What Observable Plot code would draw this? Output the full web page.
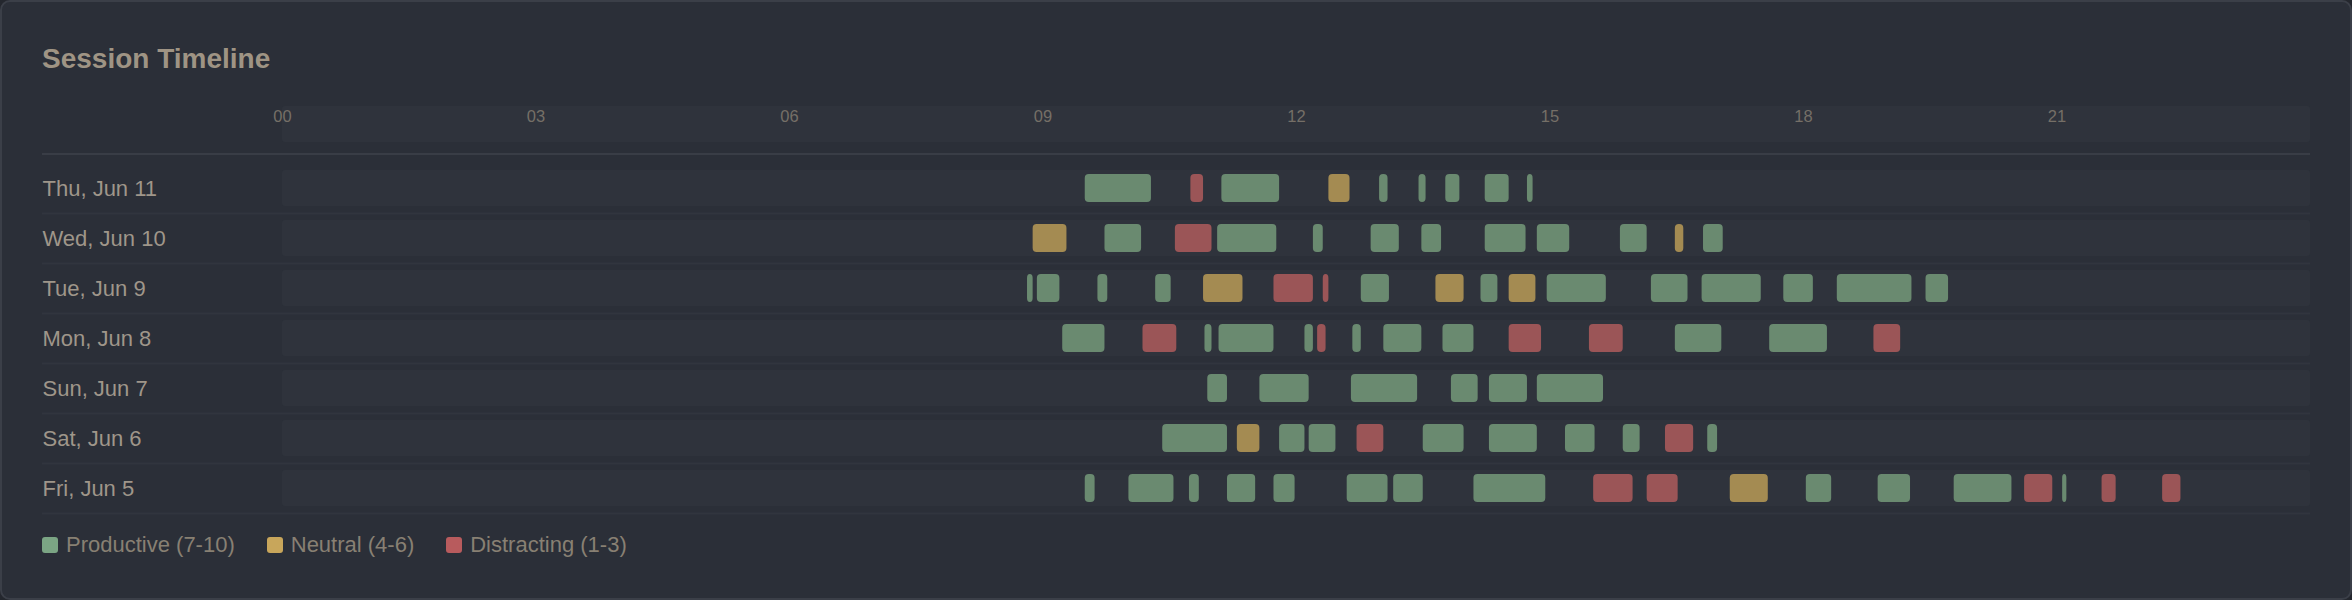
<!DOCTYPE html>
<html>
<head>
<meta charset="utf-8">
<script src="https://cdn.jsdelivr.net/npm/d3@7"></script>
<script src="https://cdn.jsdelivr.net/npm/@observablehq/plot@0.6"></script>
<style>
  html, body { margin: 0; padding: 0; background: #24272e; }
  body { position: relative; width: 2352px; height: 600px; overflow: hidden; font-family: "Liberation Sans", Arial, sans-serif; }
  #card { position: absolute; left: 0; top: 0; width: 2352px; height: 600px; box-sizing: border-box;
          border: 2px solid #3b3f48; border-radius: 10px; background: #2b2f38; }
  #title { position: absolute; left: 42px; top: 45px; font-size: 28px; line-height: 28px; font-weight: bold; color: #9f9484; margin: 0; }
  #header { position: absolute; left: 42px; top: 106px; }
  #hsep { position: absolute; left: 42px; top: 153px; width: 2268px; height: 2px; background: #393d46; }
  #body { position: absolute; left: 42px; top: 150px; }
  #legend { position: absolute; left: 42px; top: 533px; display: flex; align-items: center; font-size: 22px; line-height: 24px; color: #888073; }
  .item { display: flex; align-items: center; margin-right: 32px; }
  .sw { width: 16px; height: 16px; border-radius: 3px; margin-right: 8px; }
  svg { display: block; }
</style>
</head>
<body>
<div id="card"></div>
<div id="title">Session Timeline</div>
<div id="header"></div>
<div id="hsep"></div>
<div id="body"></div>
<div id="legend"></div>
<script>
// ---- data ----
const days = ["Thu, Jun 11", "Wed, Jun 10", "Tue, Jun 9", "Mon, Jun 8", "Sun, Jun 7", "Sat, Jun 6", "Fri, Jun 5"];
const hourTicks = [0, 3, 6, 9, 12, 15, 18, 21];
const tickLabels = ["00", "03", "06", "09", "12", "15", "18", "21"];
const categories = ["P", "N", "D"];
const categoryLabels = ["Productive (7-10)", "Neutral (4-6)", "Distracting (1-3)"];

const thu = [["09:30","10:17","P"],["10:45","10:54","D"],["11:07","11:48","P"],["12:23","12:38","N"],["12:59","13:05","P"],["13:27","13:32","P"],["13:46","13:56","P"],["14:14","14:31","P"],["14:44","14:48","P"]];
const wed = [["08:53","09:17","N"],["09:44","10:10","P"],["10:34","11:00","D"],["11:04","11:46","P"],["12:12","12:19","P"],["12:53","13:13","P"],["13:29","13:43","P"],["14:14","14:43","P"],["14:51","15:14","P"],["15:50","16:09","P"],["16:29","16:35","N"],["16:49","17:03","P"]];
const tue = [["08:49","08:53","P"],["08:56","09:12","P"],["09:39","09:46","P"],["10:20","10:31","P"],["10:54","11:22","N"],["11:44","12:12","D"],["12:19","12:23","D"],["12:46","13:06","P"],["13:39","13:59","N"],["14:11","14:23","P"],["14:31","14:50","N"],["14:58","15:40","P"],["16:12","16:38","P"],["16:48","17:30","P"],["17:46","18:07","P"],["18:24","19:17","P"],["19:27","19:43","P"]];
const mon = [["09:14","09:44","P"],["10:11","10:35","D"],["10:55","11:00","P"],["11:05","11:44","P"],["12:06","12:12","P"],["12:15","12:21","D"],["12:40","12:46","P"],["13:02","13:29","P"],["13:44","14:06","P"],["14:31","14:54","D"],["15:28","15:52","D"],["16:29","17:02","P"],["17:36","18:17","P"],["18:50","19:09","D"]];
const sun = [["10:57","11:11","P"],["11:34","12:09","P"],["12:39","13:26","P"],["13:50","14:09","P"],["14:17","14:44","P"],["14:51","15:38","P"]];
const sat = [["10:25","11:11","P"],["11:18","11:34","N"],["11:48","12:06","P"],["12:09","12:28","P"],["12:43","13:02","D"],["13:30","13:59","P"],["14:17","14:51","P"],["15:11","15:32","P"],["15:52","16:04","P"],["16:22","16:42","D"],["16:52","16:59","P"]];
const fri = [["09:30","09:37","P"],["10:01","10:33","P"],["10:44","10:51","P"],["11:11","11:31","P"],["11:44","11:59","P"],["12:36","13:05","P"],["13:09","13:30","P"],["14:06","14:57","P"],["15:31","15:59","D"],["16:09","16:31","D"],["17:08","17:35","N"],["18:02","18:20","P"],["18:53","19:16","P"],["19:47","20:28","P"],["20:37","20:57","D"],["21:04","21:07","P"],["21:32","21:42","D"],["22:15","22:28","D"]];

// ---- styles ----
const barColors = ["#6a8a70", "#a48b52", "#9b5557"];
const swatchColors = ["#7ba584", "#c8a65b", "#b85b5d"];
const trackFill = "#2f333c";

const toH = s => { const [h, m] = s.split(":").map(Number); return h + m / 60; };
const perDay = [thu, wed, tue, mon, sun, sat, fri];
const sessions = perDay.flatMap((list, i) => list.map(([a, b, c]) => ({day: days[i], start: toH(a), end: toH(b), cat: c})));

const W = 2268;
const xScale = {domain: [0, 24], range: [240, W], axis: null};

const header = Plot.plot({
  width: W, height: 36,
  marginTop: 0, marginBottom: 0, marginLeft: 0, marginRight: 0,
  x: xScale,
  marks: [
    Plot.rect([0], {x1: 0, x2: 24, fill: trackFill, rx: 3}),
    Plot.text(hourTicks, {x: d => d, text: (d, i) => tickLabels[i], frameAnchor: "top", lineAnchor: "middle", dy: 10,
      fontSize: 16.5, fill: "#756f67", fontFamily: "Liberation Sans, Arial, sans-serif"})
  ],
  style: {background: "transparent", overflow: "visible"}
});
document.getElementById("header").appendChild(header);

const body = Plot.plot({
  width: W, height: 370,
  marginTop: 0, marginBottom: 0, marginLeft: 0, marginRight: 0,
  x: xScale,
  y: {type: "band", domain: days, range: [13, 363], padding: 0, axis: null},
  color: {domain: categories, range: barColors},
  marks: [
    Plot.ruleY(days, {y: d => d, dy: 25, stroke: "#31353e", strokeWidth: 2}),
    Plot.rect(days, {x1: 0, x2: 24, y: d => d, insetTop: 7, insetBottom: 7, fill: trackFill, rx: 3}),
    Plot.rect(sessions, {x1: "start", x2: "end", y: "day", fill: "cat", insetTop: 11, insetBottom: 11, rx: 4}),
    Plot.text(days, {y: d => d, text: d => d, frameAnchor: "left", textAnchor: "start",
      fontSize: 22, fill: "#9f968a", fontFamily: "Liberation Sans, Arial, sans-serif"})
  ],
  style: {background: "transparent", overflow: "visible"}
});
document.getElementById("body").appendChild(body);

const legend = document.getElementById("legend");
categories.forEach((c, i) => {
  const item = document.createElement("div");
  item.className = "item";
  const sw = document.createElement("div");
  sw.className = "sw";
  sw.style.background = swatchColors[i];
  const t = document.createElement("span");
  t.textContent = categoryLabels[i];
  item.appendChild(sw); item.appendChild(t);
  legend.appendChild(item);
});
</script>
</body>
</html>
